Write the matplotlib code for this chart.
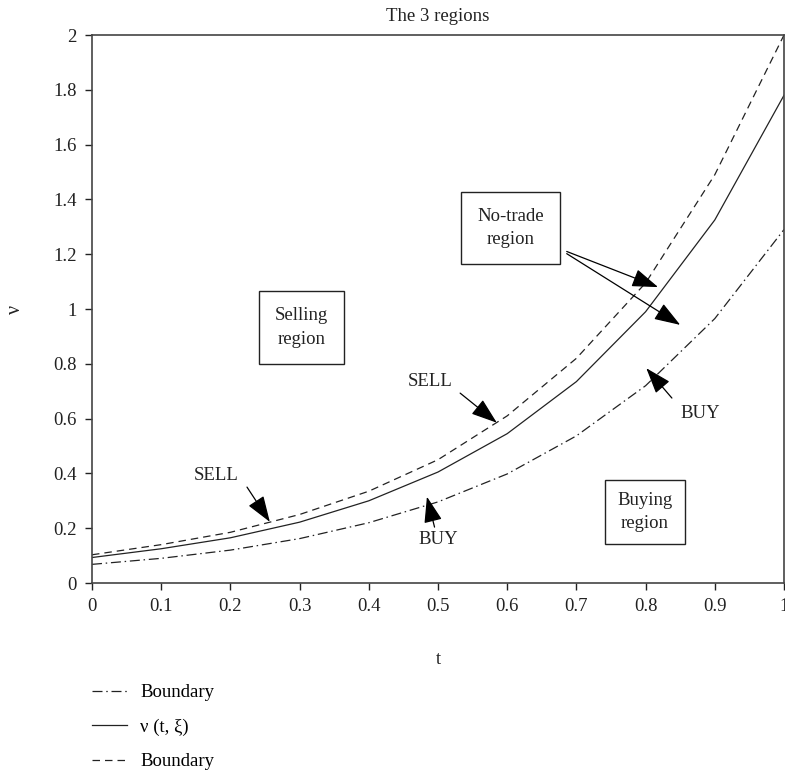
import matplotlib
matplotlib.use("Agg")
import matplotlib.pyplot as plt

plt.rcParams['font.family'] = ['Liberation Serif', 'DejaVu Serif']
plt.rcParams['font.size'] = 13.5

t = [0.0, 0.1, 0.2, 0.3, 0.4, 0.5, 0.6, 0.7, 0.8, 0.9, 1.0]
upper_boundary = [0.103, 0.14, 0.185, 0.25, 0.335, 0.45, 0.61, 0.82, 1.095, 1.49, 2.0]
nu_curve = [0.093, 0.125, 0.165, 0.222, 0.30, 0.405, 0.545, 0.735, 0.99, 1.325, 1.78]
lower_boundary = [0.068, 0.09, 0.12, 0.162, 0.22, 0.296, 0.398, 0.537, 0.72, 0.965, 1.29]

x_ticks = [0, 0.1, 0.2, 0.3, 0.4, 0.5, 0.6, 0.7, 0.8, 0.9, 1]
x_tick_labels = ['0', '0.1', '0.2', '0.3', '0.4', '0.5', '0.6', '0.7', '0.8', '0.9', '1']
y_ticks = [0, 0.2, 0.4, 0.6, 0.8, 1.0, 1.2, 1.4, 1.6, 1.8, 2.0]
y_tick_labels = ['0', '0.2', '0.4', '0.6', '0.8', '1', '1.2', '1.4', '1.6', '1.8', '2']

ink = '#222222'
fs = 13.5

fig = plt.figure(figsize=(7.85, 7.71), dpi=100)
ax = fig.add_axes([92/785, 1-583/771, 692/785, 548/771])

dashdot = (0, (8, 3, 1.2, 3))
dashed = (0, (6, 4))
l1, = ax.plot(t, lower_boundary, color=ink, lw=0.9, linestyle=dashdot)
l2, = ax.plot(t, nu_curve, color=ink, lw=0.9, linestyle='-')
l3, = ax.plot(t, upper_boundary, color=ink, lw=0.9, linestyle=dashed)

ax.set_xlim(0, 1)
ax.set_ylim(0, 2)
ax.set_xticks(x_ticks)
ax.set_xticklabels(x_tick_labels)
ax.set_yticks(y_ticks)
ax.set_yticklabels(y_tick_labels)
ax.tick_params(direction='out', length=5, width=1, colors=ink, labelsize=fs, pad=6)
for s in ax.spines.values():
    s.set_color('#444444')
    s.set_linewidth(1.2)

ax.set_title('The 3 regions', fontsize=fs, pad=10, color=ink)
ax.set_xlabel('t', fontsize=fs, labelpad=26, color=ink)
ax.set_ylabel('ν', fontsize=fs + 1, labelpad=20, color=ink)

box = dict(boxstyle='square,pad=0.85', fc='white', ec=ink, lw=1.0)
ax.text(0.3027, 0.932, 'Selling\nregion', ha='center', va='center', fontsize=fs,
        bbox=box, linespacing=1.5, color=ink)
ax.text(0.605, 1.296, 'No-trade\nregion', ha='center', va='center', fontsize=fs,
        bbox=box, linespacing=1.5, color=ink)
ax.text(0.799, 0.259, 'Buying\nregion', ha='center', va='center', fontsize=fs,
        bbox=dict(boxstyle='square,pad=0.65', fc='white', ec=ink, lw=1.0),
        linespacing=1.5, color=ink)

arrow = dict(arrowstyle='-|>,head_length=1.2,head_width=0.42', color='black', lw=0.9,
             shrinkA=0, shrinkB=0)

# lower SELL
ax.text(0.18, 0.394, 'SELL', ha='center', va='center', fontsize=fs, color=ink)
ax.annotate('', xy=(0.257, 0.223), xytext=(0.224, 0.350), arrowprops=arrow)
# upper SELL
ax.text(0.488, 0.734, 'SELL', ha='center', va='center', fontsize=fs, color=ink)
ax.annotate('', xy=(0.585, 0.585), xytext=(0.532, 0.693), arrowprops=arrow)
# lower BUY
ax.text(0.50, 0.157, 'BUY', ha='center', va='center', fontsize=fs, color=ink)
ax.annotate('', xy=(0.484, 0.315), xytext=(0.495, 0.204), arrowprops=arrow)
# right BUY
ax.text(0.879, 0.619, 'BUY', ha='center', va='center', fontsize=fs, color=ink)
ax.annotate('', xy=(0.801, 0.784), xytext=(0.838, 0.675), arrowprops=arrow)
# No-trade arrows
ax.annotate('', xy=(0.818, 1.080), xytext=(0.686, 1.210), arrowprops=arrow)
ax.annotate('', xy=(0.850, 0.942), xytext=(0.686, 1.202), arrowprops=arrow)

fig.legend([l1, l2, l3], ['Boundary', 'ν (t, ξ)', 'Boundary'],
           loc='upper left', bbox_to_anchor=(92/785, 1-684/771), frameon=False,
           handlelength=1.87, handletextpad=0.7, labelspacing=0.93, fontsize=fs,
           borderaxespad=0, borderpad=0)

fig.savefig('out.png', dpi=100, facecolor='white')
